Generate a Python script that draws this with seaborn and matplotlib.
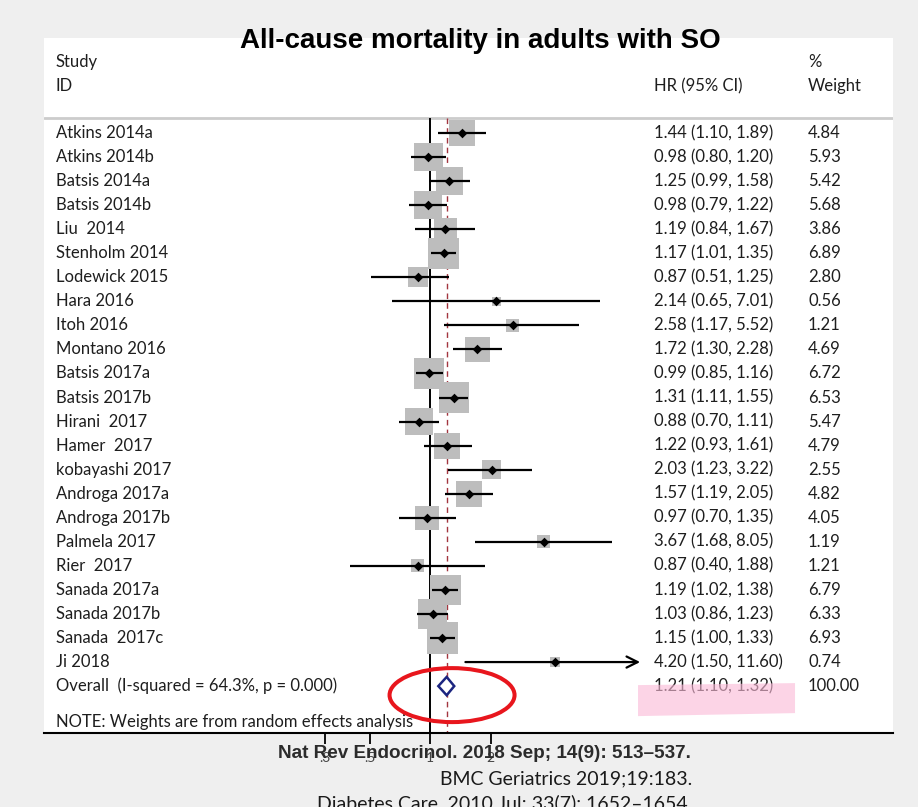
import numpy as np
import pandas as pd
import matplotlib
matplotlib.use("Agg")
import matplotlib.pyplot as plt
import matplotlib.transforms as mtransforms
from matplotlib.patches import Polygon, Ellipse
from matplotlib.ticker import NullLocator
import seaborn as sns

# ---------------- data ----------------
studies = ["Atkins 2014a", "Atkins 2014b", "Batsis 2014a", "Batsis 2014b", "Liu  2014",
           "Stenholm 2014", "Lodewick 2015", "Hara 2016", "Itoh 2016", "Montano 2016",
           "Batsis 2017a", "Batsis 2017b", "Hirani  2017", "Hamer  2017", "kobayashi 2017",
           "Androga 2017a", "Androga 2017b", "Palmela 2017", "Rier  2017", "Sanada 2017a",
           "Sanada 2017b", "Sanada  2017c", "Ji 2018"]
hr = [1.44, 0.98, 1.25, 0.98, 1.19, 1.17, 0.87, 2.14, 2.58, 1.72, 0.99, 1.31, 0.88,
      1.22, 2.03, 1.57, 0.97, 3.67, 0.87, 1.19, 1.03, 1.15, 4.20]
ci_low = [1.10, 0.80, 0.99, 0.79, 0.84, 1.01, 0.51, 0.65, 1.17, 1.30, 0.85, 1.11, 0.70,
          0.93, 1.23, 1.19, 0.70, 1.68, 0.40, 1.02, 0.86, 1.00, 1.50]
ci_high = [1.89, 1.20, 1.58, 1.22, 1.67, 1.35, 1.25, 7.01, 5.52, 2.28, 1.16, 1.55, 1.11,
           1.61, 3.22, 2.05, 1.35, 8.05, 1.88, 1.38, 1.23, 1.33, 11.60]
weights = [4.84, 5.93, 5.42, 5.68, 3.86, 6.89, 2.80, 0.56, 1.21, 4.69, 6.72, 6.53, 5.47,
           4.79, 2.55, 4.82, 4.05, 1.19, 1.21, 6.79, 6.33, 6.93, 0.74]

overall_label = "Overall  (I-squared = 64.3%, p = 0.000)"
overall_hr, overall_low, overall_high, overall_weight = 1.21, 1.10, 1.32, 100.00
note_text = "NOTE: Weights are from random effects analysis"

xtick_values = [0.3, 0.5, 1, 2]
xtick_labels = [".3", ".5", "1", "2"]
ci_display_max = 11.1

title = "All-cause mortality in adults with SO"
citations = ["Nat Rev Endocrinol. 2018 Sep; 14(9): 513\u2013537.",
             "BMC Geriatrics 2019;19:183.",
             "Diabetes Care. 2010 Jul; 33(7): 1652\u20131654."]

# ---------------- figure ----------------
sns.set_theme(style="white")
plt.rcParams['font.family'] = ['Lato', 'DejaVu Sans']

W, H = 918, 807
fig = plt.figure(figsize=(W / 100, H / 100), dpi=100, facecolor='#efefef')


def fx(px):
    return px / W


def fy(py):
    return 1 - py / H


ax = fig.add_axes([fx(44), fy(733), fx(893) - fx(44), fy(38) - fy(733)])
ax.set_facecolor('white')
ax.set_xscale('log')
ax.set_xlim(0.01201, 201.1)
ax.set_ylim(24.95, -3.95)

df = pd.DataFrame({"study": studies, "hr": hr, "lo": ci_low, "hi": ci_high, "w": weights})
df["row"] = np.arange(len(df))
overall_row = len(df)
note_row = overall_row + 1.49
sep_row = -0.62

# reference lines
ax.axhline(sep_row, color='#cccccc', lw=2, zorder=1)
ax.vlines(1, sep_row, 24.95, colors='black', lw=1.4, zorder=1)
ax.vlines(overall_hr, sep_row, 24.95, colors='#a3353f', lw=1.0,
          linestyles=(0, (4, 3)), zorder=1)

# weight squares
wmin, wmax = df["w"].min(), df["w"].max()
sns.scatterplot(data=df, x="hr", y="row", size="w", sizes=(72 * wmin, 72 * wmax),
                size_norm=(wmin, wmax), marker='s', color='#bdbdbd', linewidth=0,
                legend=False, ax=ax, zorder=2)

# CI lines
for _, r in df.iterrows():
    if r["hi"] > ci_display_max:
        ax.annotate("", xy=(ci_display_max, r["row"]), xytext=(r["lo"], r["row"]),
                    arrowprops=dict(arrowstyle='->', lw=1.6, color='black',
                                    mutation_scale=20, shrinkA=0, shrinkB=0),
                    zorder=3)
    else:
        ax.hlines(r["row"], r["lo"], r["hi"], colors='black', lw=1.6, zorder=3)

# point estimates
sns.scatterplot(data=df, x="hr", y="row", marker='D', s=24, color='black',
                linewidth=0, legend=False, ax=ax, zorder=4)

# overall diamond
dh = 0.38
ax.add_patch(Polygon([[overall_low, overall_row], [overall_hr, overall_row - dh],
                      [overall_high, overall_row], [overall_hr, overall_row + dh]],
                     closed=True, facecolor='white', edgecolor='#1c2580', lw=1.8, zorder=4))

# axis styling
for s in ["left", "top", "right"]:
    ax.spines[s].set_visible(False)
ax.spines["bottom"].set_color('black')
ax.spines["bottom"].set_linewidth(1.5)
ax.set_xticks(xtick_values)
ax.set_xticklabels(xtick_labels)
ax.xaxis.set_minor_locator(NullLocator())
ax.set_yticks([])
ax.set_xlabel("")
ax.set_ylabel("")
ax.tick_params(axis='x', bottom=True, direction='out', length=8, width=1.3,
               color='black', labelsize=10, labelcolor='#444444', pad=6)

# ---------------- text columns ----------------
bt = mtransforms.blended_transform_factory(ax.transAxes, ax.transData)
x_study, x_hr, x_w = 0.01413, 0.7185, 0.8999
fs = 12
tc = '#1e1e1e'
ax.text(x_study, -2.95, "Study", transform=bt, va='center', fontsize=fs, color=tc)
ax.text(x_study, -1.95, "ID", transform=bt, va='center', fontsize=fs, color=tc)
ax.text(x_hr, -1.95, "HR (95% CI)", transform=bt, va='center', fontsize=fs, color=tc)
ax.text(x_w, -2.95, "%", transform=bt, va='center', fontsize=fs, color=tc)
ax.text(x_w, -1.95, "Weight", transform=bt, va='center', fontsize=fs, color=tc)

for _, r in df.iterrows():
    ax.text(x_study, r["row"], r["study"], transform=bt, va='center', fontsize=fs, color=tc)
    ax.text(x_hr, r["row"], f'{r["hr"]:.2f} ({r["lo"]:.2f}, {r["hi"]:.2f})',
            transform=bt, va='center', fontsize=fs, color=tc)
    ax.text(x_w, r["row"], f'{r["w"]:.2f}', transform=bt, va='center', fontsize=fs, color=tc)

ax.text(x_study, overall_row, overall_label, transform=bt, va='center', fontsize=fs, color=tc)
ax.text(x_hr, overall_row, f'{overall_hr:.2f} ({overall_low:.2f}, {overall_high:.2f})',
        transform=bt, va='center', fontsize=fs, color=tc)
ax.text(x_w, overall_row, f'{overall_weight:.2f}', transform=bt, va='center',
        fontsize=fs, color=tc)
ax.text(x_study, note_row, note_text, transform=bt, va='center', fontsize=fs, color=tc)

# ---------------- annotations ----------------
# pink highlighter over overall HR text
pink_tr = fig.dpi_scale_trans + mtransforms.ScaledTranslation(x_hr, overall_row, bt)
fig.patches.append(Polygon([[-0.16, 0.01], [1.41, 0.03], [1.41, -0.27], [-0.16, -0.30]],
                           closed=True, transform=pink_tr, facecolor='#fbbad8',
                           edgecolor='none', alpha=0.62, zorder=5))

# red ellipse around overall diamond
ell_tr = fig.dpi_scale_trans + mtransforms.ScaledTranslation(overall_hr, overall_row, ax.transData)
fig.patches.append(Ellipse((0.054, -0.09), 1.25, 0.54, transform=ell_tr, facecolor='none',
                           edgecolor='#e8161d', lw=2.9, zorder=6))

# title
fig.text(fx(480), fy(41), title, ha='center', va='center', family=['Liberation Sans', 'DejaVu Sans'],
         weight='bold', fontsize=20, color='black', zorder=10)

# citations
fig.text(fx(691), fy(754), citations[0], ha='right', va='center',
         family=['Liberation Sans', 'DejaVu Sans'], weight='bold', fontsize=13.6,
         color='#2b2b2b', zorder=10)
fig.text(fx(692), fy(779), citations[1], ha='right', va='center', fontsize=14,
         color='#1a1a1a', zorder=10)
fig.text(fx(692), fy(803), citations[2], ha='right', va='center', fontsize=14,
         color='#1a1a1a', zorder=10)

fig.savefig("out.png", dpi=100, facecolor=fig.get_facecolor())
